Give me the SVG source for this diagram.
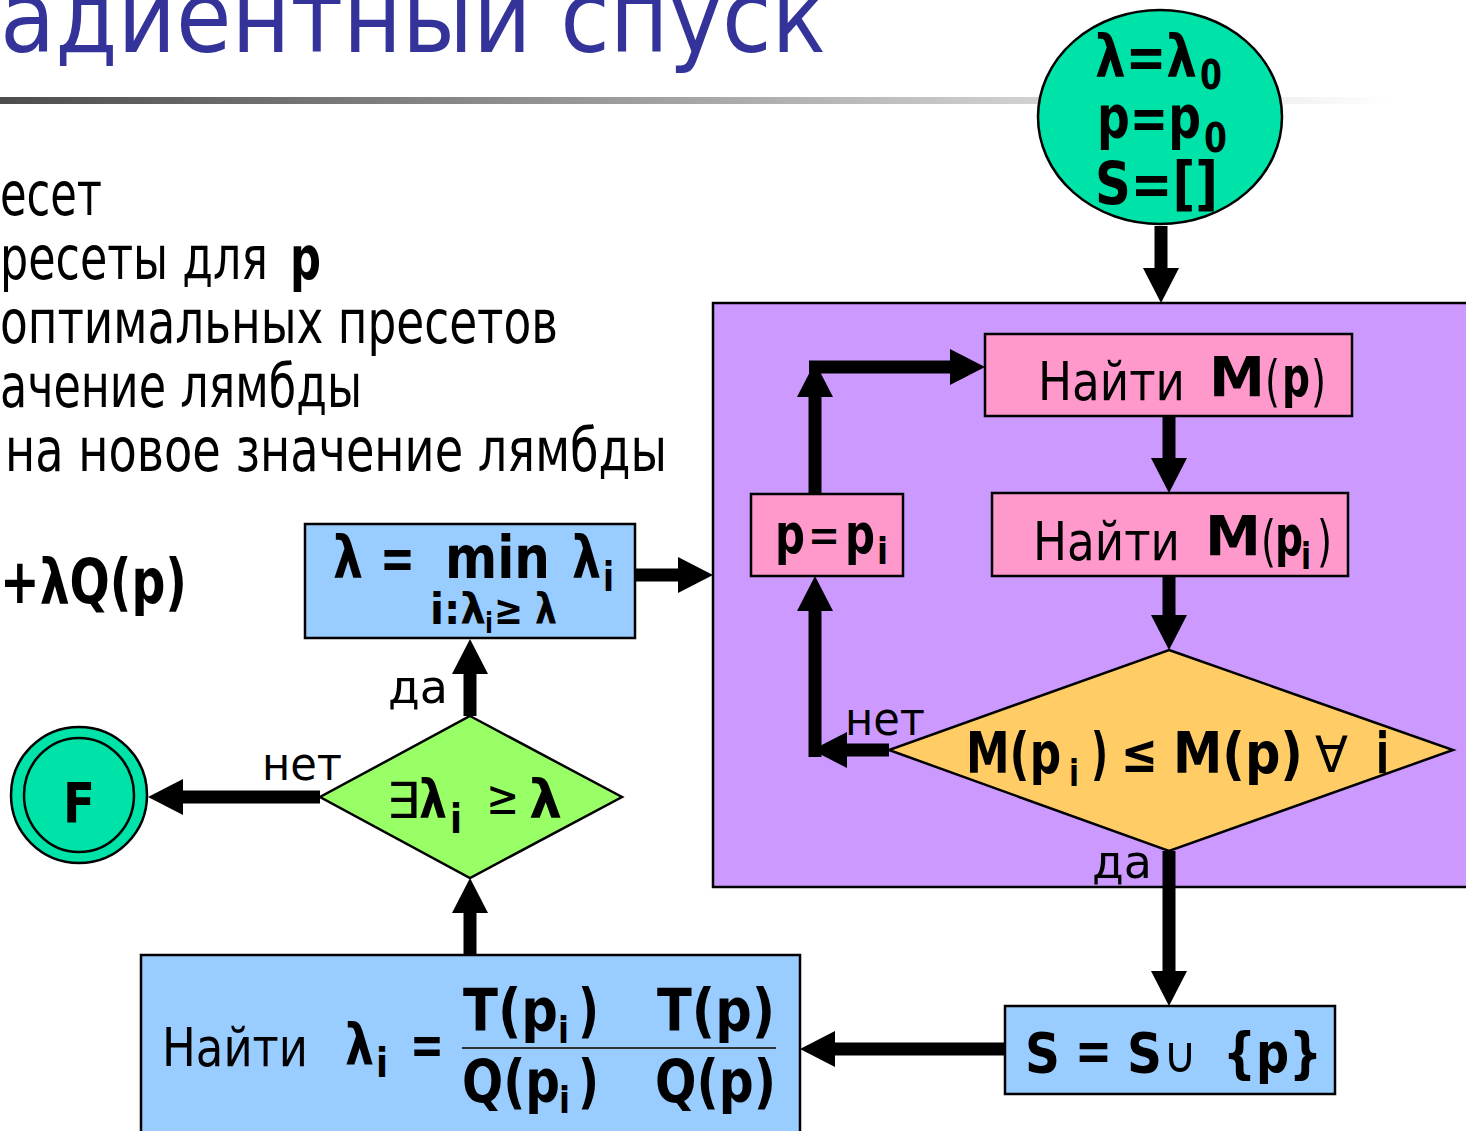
<svg xmlns="http://www.w3.org/2000/svg" width="1466" height="1131" viewBox="0 0 1466 1131">
<defs>
<linearGradient id="bar" x1="0" y1="0" x2="1" y2="0">
<stop offset="0" stop-color="#4d4d4d"/>
<stop offset="0.95" stop-color="#ffffff"/>
</linearGradient>
<marker id="ah" markerUnits="userSpaceOnUse" markerWidth="38" markerHeight="38" refX="1" refY="18" orient="auto">
<path d="M0,0 L35,18 L0,36 z" fill="#000"/>
</marker>
</defs>
<style>
text{font-family:"DejaVu Sans","Liberation Sans",sans-serif;font-stretch:condensed;fill:#000}
.b{font-weight:bold}
.box{stroke:#000;stroke-width:2.5}
.conn path{stroke:#000;stroke-width:13;fill:none;marker-end:url(#ah)}
</style>
<rect width="1466" height="1131" fill="#fff"/>
<g id="title">
<text x="0" y="52" font-size="100" style="fill:#333399" textLength="826" lengthAdjust="spacingAndGlyphs">адиентный спуск</text>
<rect x="0" y="97" width="1466" height="7" fill="url(#bar)"/>
</g>
<g id="bullets" font-size="60">
<text x="0" y="215" textLength="102" lengthAdjust="spacingAndGlyphs">есет</text>
<text x="0" y="279" textLength="268" lengthAdjust="spacingAndGlyphs">ресеты для</text>
<text x="290" y="279" class="b" textLength="31" lengthAdjust="spacingAndGlyphs">p</text>
<text x="0" y="343" textLength="558" lengthAdjust="spacingAndGlyphs">оптимальных пресетов</text>
<text x="0" y="407" textLength="362" lengthAdjust="spacingAndGlyphs">ачение лямбды</text>
<text x="5" y="471" textLength="662" lengthAdjust="spacingAndGlyphs">на новое значение лямбды</text>
<text x="0" y="603" font-size="62" class="b" textLength="187" lengthAdjust="spacingAndGlyphs">+λQ(p)</text>
</g>
<g id="purple">
<rect x="713" y="303" width="780" height="584" fill="#CC99FF" class="box"/>
</g>
<g id="start">
<ellipse cx="1160" cy="117" rx="122" ry="107" fill="#00E3A8" class="box"/>
<text x="1095" y="77" font-size="58" class="b" textLength="102" lengthAdjust="spacingAndGlyphs">λ=λ</text>
<text x="1200" y="89" font-size="40" class="b" textLength="22" lengthAdjust="spacingAndGlyphs">0</text>
<text x="1097" y="138" font-size="58" class="b" textLength="104" lengthAdjust="spacingAndGlyphs">p=p</text>
<text x="1204" y="152" font-size="40" class="b" textLength="23" lengthAdjust="spacingAndGlyphs">0</text>
<text x="1095" y="204" font-size="58" class="b" textLength="123" lengthAdjust="spacingAndGlyphs">S=[]</text>
</g>
<g id="findMp">
<rect x="985" y="334" width="367" height="82" fill="#FF99CC" class="box"/>
<text x="1038" y="400" font-size="54" textLength="147" lengthAdjust="spacingAndGlyphs">Найти</text>
<text x="1209" y="396" font-size="56" class="b" textLength="56" lengthAdjust="spacingAndGlyphs">M</text>
<text x="1265" y="400" font-size="56" textLength="15" lengthAdjust="spacingAndGlyphs">(</text>
<text x="1282" y="396" font-size="56" class="b" textLength="28" lengthAdjust="spacingAndGlyphs">p</text>
<text x="1311" y="400" font-size="56" textLength="15" lengthAdjust="spacingAndGlyphs">)</text>
</g>
<g id="findMpi">
<rect x="992" y="493" width="356" height="83" fill="#FF99CC" class="box"/>
<text x="1033" y="560" font-size="54" textLength="147" lengthAdjust="spacingAndGlyphs">Найти</text>
<text x="1205" y="555" font-size="56" class="b" textLength="56" lengthAdjust="spacingAndGlyphs">M</text>
<text x="1261" y="560" font-size="56" textLength="15" lengthAdjust="spacingAndGlyphs">(</text>
<text x="1275" y="555" font-size="56" class="b" textLength="28" lengthAdjust="spacingAndGlyphs">p</text>
<text x="1301" y="569" font-size="38" class="b" textLength="10" lengthAdjust="spacingAndGlyphs">i</text>
<text x="1317" y="560" font-size="56" textLength="15" lengthAdjust="spacingAndGlyphs">)</text>
</g>
<g id="ppi">
<rect x="751" y="494" width="152" height="82" fill="#FF99CC" class="box"/>
<text x="775" y="553" font-size="56" class="b" textLength="30" lengthAdjust="spacingAndGlyphs">p</text>
<text x="808" y="553" font-size="54" textLength="32" lengthAdjust="spacingAndGlyphs">=</text>
<text x="845" y="553" font-size="56" class="b" textLength="30" lengthAdjust="spacingAndGlyphs">p</text>
<text x="877" y="564" font-size="38" class="b" textLength="11" lengthAdjust="spacingAndGlyphs">i</text>
</g>
<g id="cond1">
<polygon points="1169,650 1453,750 1169,851 889,750" fill="#FFCC66" class="box"/>
<text x="966" y="773" font-size="57" class="b" textLength="95" lengthAdjust="spacingAndGlyphs">M(p</text>
<text x="1069" y="786" font-size="38" class="b" textLength="10" lengthAdjust="spacingAndGlyphs">i</text>
<text x="1091" y="773" font-size="57" class="b" textLength="17" lengthAdjust="spacingAndGlyphs">)</text>
<text x="1121" y="772" font-size="54" class="b" textLength="37" lengthAdjust="spacingAndGlyphs">≤</text>
<text x="1173" y="773" font-size="57" class="b" textLength="130" lengthAdjust="spacingAndGlyphs">M(p)</text>
<text x="1315" y="772" font-size="50" textLength="33" lengthAdjust="spacingAndGlyphs">∀</text>
<text x="1376" y="773" font-size="57" class="b" textLength="13" lengthAdjust="spacingAndGlyphs">i</text>
</g>
<g id="lambdaMin">
<rect x="305" y="524" width="330" height="114" fill="#99CCFF" class="box"/>
<text x="333" y="578" font-size="58" class="b" textLength="30" lengthAdjust="spacingAndGlyphs">λ</text>
<text x="380" y="578" font-size="58" class="b" textLength="35" lengthAdjust="spacingAndGlyphs">=</text>
<text x="445" y="578" font-size="58" class="b" textLength="105" lengthAdjust="spacingAndGlyphs">min</text>
<text x="572" y="578" font-size="58" class="b" textLength="29" lengthAdjust="spacingAndGlyphs">λ</text>
<text x="603" y="591" font-size="40" class="b" textLength="11" lengthAdjust="spacingAndGlyphs">i</text>
<text x="430" y="624" font-size="42" class="b" textLength="56" lengthAdjust="spacingAndGlyphs">i:λ</text>
<text x="485" y="633" font-size="28" class="b" textLength="8" lengthAdjust="spacingAndGlyphs">i</text>
<text x="494" y="624" font-size="42" class="b" textLength="63" lengthAdjust="spacingAndGlyphs">≥ λ</text>
</g>
<g id="cond2">
<polygon points="470,716 622,797 470,878 320,797" fill="#99FF66" class="box"/>
<text x="386" y="818" font-size="50" textLength="34" lengthAdjust="spacingAndGlyphs">∃</text>
<text x="419" y="818" font-size="54" class="b" textLength="28" lengthAdjust="spacingAndGlyphs">λ</text>
<text x="450" y="833" font-size="40" class="b" textLength="12" lengthAdjust="spacingAndGlyphs">i</text>
<text x="486" y="814" font-size="48" textLength="33" lengthAdjust="spacingAndGlyphs">≥</text>
<text x="529" y="818" font-size="54" class="b" textLength="33" lengthAdjust="spacingAndGlyphs">λ</text>
</g>
<g id="final">
<ellipse cx="79" cy="795" rx="68" ry="68" fill="#00E3A8" class="box"/>
<ellipse cx="79" cy="795" rx="55" ry="57" fill="none" class="box"/>
<text x="63" y="822" font-size="56" class="b" textLength="32" lengthAdjust="spacingAndGlyphs">F</text>
</g>
<g id="findLambda">
<rect x="141" y="955" width="659" height="190" fill="#99CCFF" class="box"/>
<text x="162" y="1066" font-size="54" textLength="146" lengthAdjust="spacingAndGlyphs">Найти</text>
<text x="345" y="1064" font-size="56" class="b" textLength="29" lengthAdjust="spacingAndGlyphs">λ</text>
<text x="376" y="1077" font-size="40" class="b" textLength="12" lengthAdjust="spacingAndGlyphs">i</text>
<text x="410" y="1064" font-size="56" class="b" textLength="34" lengthAdjust="spacingAndGlyphs">=</text>
<text x="463" y="1031" font-size="58" class="b" textLength="95" lengthAdjust="spacingAndGlyphs">T(p</text>
<text x="558" y="1043" font-size="38" class="b" textLength="11" lengthAdjust="spacingAndGlyphs">i</text>
<text x="578" y="1031" font-size="58" class="b" textLength="21" lengthAdjust="spacingAndGlyphs">)</text>
<text x="657" y="1031" font-size="58" class="b" textLength="118" lengthAdjust="spacingAndGlyphs">T(p)</text>
<line x1="462" y1="1048" x2="776" y2="1048" stroke="#333" stroke-width="2"/>
<text x="462" y="1102" font-size="58" class="b" textLength="98" lengthAdjust="spacingAndGlyphs">Q(p</text>
<text x="559" y="1113" font-size="38" class="b" textLength="11" lengthAdjust="spacingAndGlyphs">i</text>
<text x="578" y="1102" font-size="58" class="b" textLength="21" lengthAdjust="spacingAndGlyphs">)</text>
<text x="655" y="1102" font-size="58" class="b" textLength="121" lengthAdjust="spacingAndGlyphs">Q(p)</text>
</g>
<g id="addS">
<rect x="1005" y="1006" width="330" height="88" fill="#99CCFF" class="box"/>
<text x="1025" y="1072" font-size="56" class="b" textLength="35" lengthAdjust="spacingAndGlyphs">S</text>
<text x="1075" y="1070" font-size="56" class="b" textLength="37" lengthAdjust="spacingAndGlyphs">=</text>
<text x="1127" y="1072" font-size="56" class="b" textLength="35" lengthAdjust="spacingAndGlyphs">S</text>
<text x="1163" y="1072" font-size="50" textLength="34" lengthAdjust="spacingAndGlyphs">∪</text>
<text x="1223" y="1072" font-size="56" class="b" textLength="99" lengthAdjust="spacingAndGlyphs">{p}</text>
</g>
<g class="conn" id="connectors">
<path d="M1161,226 V269"/>
<path d="M1169,417 V459"/>
<path d="M1169,577 V616"/>
<path d="M809,367 H951"/>
<path d="M815,494 V396"/>
<path d="M889,750 H846"/>
<path d="M815,757 V610"/>
<path d="M1169,851 V972"/>
<path d="M1005,1049 H834"/>
<path d="M470,955 V912"/>
<path d="M470,716 V673"/>
<path d="M320,797 H182"/>
<path d="M636,575 H679"/>
</g>
<g id="labels" font-size="46">
<text x="845" y="735" textLength="80" lengthAdjust="spacingAndGlyphs">нет</text>
<text x="262" y="780" textLength="80" lengthAdjust="spacingAndGlyphs">нет</text>
<text x="388" y="703" textLength="60" lengthAdjust="spacingAndGlyphs">да</text>
<text x="1092" y="878" textLength="60" lengthAdjust="spacingAndGlyphs">да</text>
</g>
</svg>
